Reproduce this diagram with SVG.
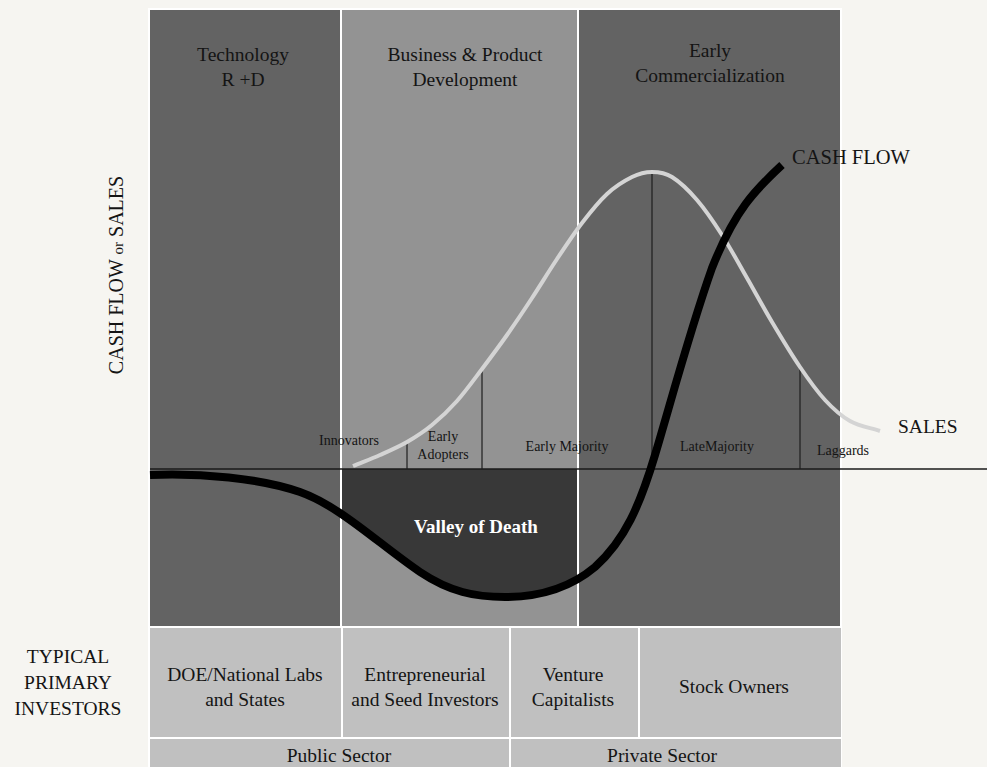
<svg xmlns="http://www.w3.org/2000/svg" width="987" height="767" viewBox="0 0 987 767">
<defs>
<style>
text{font-family:"Liberation Serif","DejaVu Serif",serif;fill:#141414;text-anchor:middle}
.t{font-size:19.5px}
.s{font-size:14px}
.dark{fill:#636363}
.mid{fill:#939393}
.cell{fill:#c0c0c0}
.div{stroke:#1e1e1e;stroke-width:1.2}
</style>
<clipPath id="midclip"><rect x="342" y="469" width="235" height="157"/></clipPath>
</defs>
<rect width="987" height="767" fill="#f6f5f1"/>
<rect x="148" y="8" width="694" height="759" fill="#ffffff"/>

<g id="phase-tech"><rect class="dark" x="150" y="10" width="190" height="616"/>
<text class="t" x="243" y="61">Technology</text><text class="t" x="243" y="86">R +D</text></g>
<g id="phase-business"><rect class="mid" x="342" y="10" width="235" height="616"/>
<text class="t" x="465" y="61">Business &amp; Product</text><text class="t" x="465" y="86">Development</text></g>
<g id="phase-commercial"><rect class="dark" x="579" y="10" width="261" height="616"/>
<text class="t" x="710" y="57">Early</text><text class="t" x="710" y="82">Commercialization</text></g>

<g id="valley">
<path clip-path="url(#midclip)" fill="#383838" d="M150,475 C200,473 260,478 300,492 C340,506 380,545 420,572 C450,592 475,597 505,597 C540,597 570,588 595,567 C625,540 640,505 655,455 L655,469 L150,469 Z"/>
<text x="476" y="533" style="font-size:19px;font-weight:bold;fill:#ffffff">Valley of Death</text>
</g>

<g id="connectors">
<line x1="150" y1="469" x2="987" y2="469" stroke="#1a1a1a" stroke-width="1.3"/>
<line class="div" x1="407" y1="442" x2="407" y2="469"/>
<line class="div" x1="482" y1="369" x2="482" y2="469"/>
<line class="div" x1="652" y1="172" x2="652" y2="469"/>
<line class="div" x1="800" y1="367" x2="800" y2="469"/>
<path id="sales" fill="none" stroke="#d4d4d4" stroke-width="4" stroke-linecap="butt" d="M353,466 C362,462.3 371,459 380,455 C389,451 398.3,447 407,442 C415.7,437 423.7,431.8 432,425 C440.3,418.2 448.7,410.3 457,401 C465.3,391.7 473.7,380 482,369 C490.3,358 498.7,346.8 507,335 C515.3,323.2 523.7,310.7 532,298 C540.3,285.3 548.7,271.5 557,259 C565.3,246.5 573.7,233.8 582,223 C590.3,212.2 598.7,201.7 607,194 C615.3,186.3 624.5,180.7 632,177 C639.5,173.3 645.3,172 652,172 C658.7,172 664.5,172.3 672,177 C679.5,181.7 688.7,190.3 697,200 C705.3,209.7 713.7,222 722,235 C730.3,248 738.7,263.5 747,278 C755.3,292.5 763.2,307.2 772,322 C780.8,336.8 791.2,354 800,367 C808.8,380 816.7,391 825,400 C833.3,409 840.8,415.8 850,421 C859.2,426.2 870,427.7 880,431"/>
<path id="cashflow" fill="none" stroke="#000000" stroke-width="8" d="M150,475 C200,473 260,478 300,492 C340,506 380,545 420,572 C450,592 475,597 505,597 C540,597 570,588 595,567 C625,540 640,505 655,455 C670,405 690,330 712,268 C735,210 755,190 782,165"/>
</g>

<g id="adopter-labels">
<text class="s" x="349" y="445">Innovators</text>
<text class="s" x="443" y="441">Early</text>
<text class="s" x="443" y="459">Adopters</text>
<text class="s" x="567" y="451">Early Majority</text>
<text class="s" x="717" y="451">LateMajority</text>
<text class="s" x="843" y="455">Laggards</text>
</g>

<g id="curve-labels">
<text x="792" y="164" style="font-size:20.5px;text-anchor:start">CASH FLOW</text>
<text x="898" y="433" style="font-size:19.5px;text-anchor:start">SALES</text>
<text transform="translate(123,275) rotate(-90)" style="font-size:20px">CASH FLOW <tspan style="font-size:15px">or</tspan> SALES</text>
</g>

<g id="investors-heading">
<text class="t" x="68" y="663">TYPICAL</text>
<text class="t" x="68" y="689">PRIMARY</text>
<text class="t" x="68" y="715">INVESTORS</text>
</g>
<g id="inv-doe"><rect class="cell" x="150" y="628" width="191" height="109"/>
<text class="t" x="245" y="681">DOE/National Labs</text><text class="t" x="245" y="706">and States</text></g>
<g id="inv-seed"><rect class="cell" x="343" y="628" width="166" height="109"/>
<text class="t" x="425" y="681">Entrepreneurial</text><text class="t" x="425" y="706">and Seed Investors</text></g>
<g id="inv-vc"><rect class="cell" x="511" y="628" width="127" height="109"/>
<text class="t" x="573" y="681">Venture</text><text class="t" x="573" y="706">Capitalists</text></g>
<g id="inv-stock"><rect class="cell" x="640" y="628" width="201" height="109"/>
<text class="t" x="734" y="693">Stock Owners</text></g>
<g id="sector-public"><rect class="cell" x="150" y="739" width="359" height="28"/>
<text class="t" x="339" y="762">Public Sector</text></g>
<g id="sector-private"><rect class="cell" x="511" y="739" width="330" height="28"/>
<text class="t" x="662" y="762">Private Sector</text></g>
</svg>
